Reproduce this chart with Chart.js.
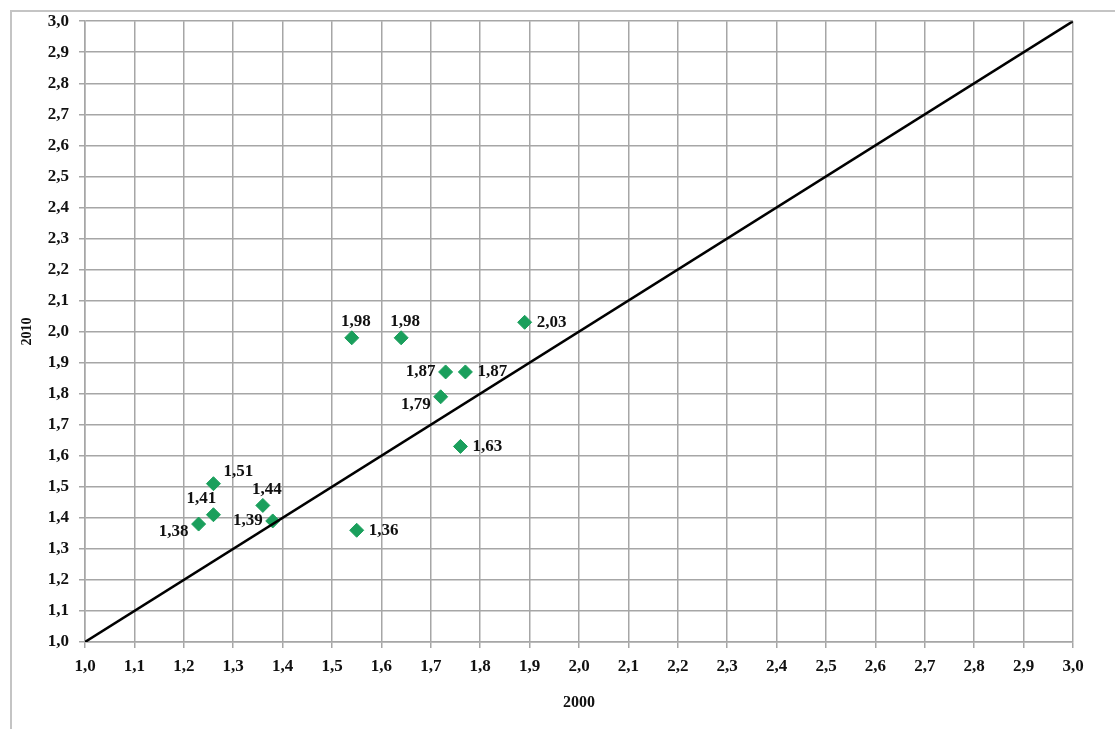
<!DOCTYPE html>
<html lang="en">
<head>
    <meta charset="UTF-8">
    <title>2000 vs 2010</title>
    <script src="https://cdn.jsdelivr.net/npm/chart.js@4.4.1/dist/chart.umd.min.js"></script>
    <style>
        html, body {
            margin: 0;
            padding: 0;
            background: #ffffff;
            overflow: hidden;
        }
        .frame {
            position: absolute;
            left: 10px;
            top: 10px;
            width: 1105px;
            height: 719px;
            border-left: 2px solid #c4c4c4;
            border-top: 2px solid #c4c4c4;
            box-sizing: border-box;
        }
        .chart-box {
            position: absolute;
            left: 0;
            top: -11px;
            width: 1103px;
            height: 717px;
        }
    </style>
</head>
<body>
    <div class="frame">
        <div class="chart-box">
            <canvas id="scatter"></canvas>
        </div>
    </div>

    <script>
        // values
        const x2000 = [1.54, 1.64, 1.89, 1.73, 1.77, 1.72, 1.76, 1.26, 1.26, 1.23, 1.36, 1.38, 1.55];
        const y2010 = [1.98, 1.98, 2.03, 1.87, 1.87, 1.79, 1.63, 1.51, 1.41, 1.38, 1.44, 1.39, 1.36];
        const pointLabels = ['1,98', '1,98', '2,03', '1,87', '1,87', '1,79', '1,63', '1,51', '1,41', '1,38', '1,44', '1,39', '1,36'];
        // where each label sits relative to its marker
        const labelPlace = ['top', 'top', 'right', 'left', 'right', 'bottomleft', 'right', 'topright', 'topleft', 'bottomleft', 'top', 'left', 'right'];

        const diagX = [1, 3];
        const diagY = [1, 3];

        const axisMin = 1;
        const axisMax = 3;
        const axisStep = 0.1;

        const serif = "'Liberation Serif', 'Times New Roman', serif";
        const fmt = v => Number(v).toFixed(1).replace('.', ',');

        const labelPlugin = {
            id: 'pointText',
            afterDatasetsDraw(chart) {
                const meta = chart.getDatasetMeta(1);
                const ctx = chart.ctx;
                ctx.save();
                ctx.font = 'bold 17px ' + serif;
                ctx.fillStyle = '#111';
                meta.data.forEach((pt, i) => {
                    let x = pt.x, y = pt.y;
                    let align = 'center';
                    switch (labelPlace[i]) {
                        case 'top': x += 4; y -= 16; break;
                        case 'topleft': x -= 12; y -= 16; break;
                        case 'topright': x += 10; y -= 12; align = 'left'; break;
                        case 'right': x += 12; align = 'left'; break;
                        case 'left': x -= 10; align = 'right'; break;
                        case 'bottomleft': x -= 10; y += 8; align = 'right'; break;
                    }
                    ctx.textAlign = align;
                    ctx.textBaseline = 'middle';
                    ctx.fillText(pointLabels[i], x, y);
                });
                ctx.restore();
            }
        };

        const gridStyle = {
            color: '#a6a6a6',
            lineWidth: 1.5,
            tickLength: 6,
            drawTicks: true
        };

        new Chart(document.getElementById('scatter'), {
            type: 'scatter',
            data: {
                datasets: [
                    {
                        type: 'line',
                        data: diagX.map((v, i) => ({ x: v, y: diagY[i] })),
                        borderColor: '#000000',
                        borderWidth: 2.5,
                        pointRadius: 0,
                        fill: false
                    },
                    {
                        data: x2000.map((v, i) => ({ x: v, y: y2010[i] })),
                        pointStyle: 'rectRot',
                        pointRadius: 7,
                        backgroundColor: '#1a9f5c',
                        borderColor: '#1a9f5c',
                        borderWidth: 1
                    }
                ]
            },
            options: {
                responsive: true,
                maintainAspectRatio: false,
                animation: false,
                layout: {
                    padding: { left: 0, right: 42, top: 0, bottom: 0 }
                },
                plugins: {
                    legend: { display: false },
                    tooltip: { enabled: false }
                },
                scales: {
                    x: {
                        type: 'linear',
                        min: axisMin,
                        max: axisMax,
                        border: { color: '#a6a6a6', width: 1.5 },
                        grid: gridStyle,
                        ticks: {
                            stepSize: axisStep,
                            padding: 8,
                            color: '#111',
                            font: { family: serif, size: 17, weight: 'bold' },
                            callback: fmt,
                            maxRotation: 0,
                            autoSkip: false
                        },
                        title: {
                            display: true,
                            text: '2000',
                            color: '#111',
                            font: { family: serif, size: 16, weight: 'bold' },
                            padding: { top: 2, bottom: 6 }
                        },
                        afterFit(scale) { scale.height = 76; }
                    },
                    y: {
                        type: 'linear',
                        min: axisMin,
                        max: axisMax,
                        border: { color: '#a6a6a6', width: 1.5 },
                        grid: gridStyle,
                        ticks: {
                            stepSize: axisStep,
                            padding: 10,
                            color: '#111',
                            font: { family: serif, size: 17, weight: 'bold' },
                            callback: fmt,
                            autoSkip: false
                        },
                        title: {
                            display: true,
                            text: '2010',
                            color: '#111',
                            font: { family: serif, size: 14, weight: 'bold' },
                            padding: { top: 7, bottom: 0 }
                        },
                        afterFit(scale) { scale.width = 73; }
                    }
                }
            },
            plugins: [labelPlugin]
        });
    </script>
</body>
</html>
